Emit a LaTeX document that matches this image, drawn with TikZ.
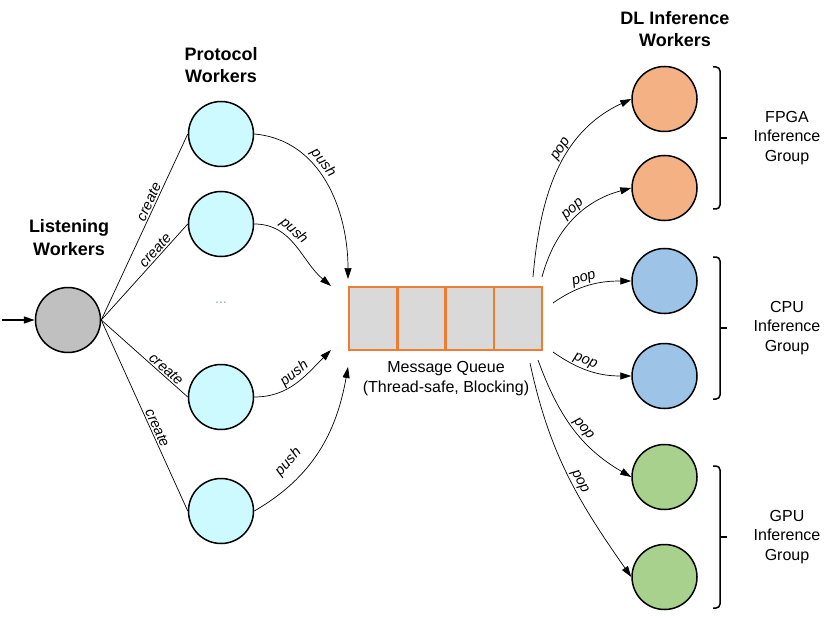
\documentclass[tikz,border=0pt]{standalone}
\usepackage{fontspec}
\setmainfont{Liberation Sans}
\usepackage{xcolor}
\usepackage{tikz}
\usetikzlibrary{arrows.meta}

\definecolor{qorange}{HTML}{ED7D31}
\definecolor{qgray}{HTML}{D9D9D9}
\definecolor{listengray}{HTML}{C0C0C0}
\definecolor{protocyan}{HTML}{CCFAFF}
\definecolor{fpgaorange}{HTML}{F4B183}
\definecolor{cpublue}{HTML}{9DC3E6}
\definecolor{gpugreen}{HTML}{A9D18E}
\definecolor{dotsblue}{HTML}{8EA9DB}

\begin{document}
\begin{tikzpicture}[x=1pt, y=1pt,
    worker/.style={circle, draw, line width=1.5pt, minimum size=65pt, inner sep=0pt},
    heading/.style={align=center, font=\fontsize{18}{22.5}\selectfont\bfseries},
    grouptext/.style={align=center, font=\fontsize{16}{19.5}\selectfont},
    lbl/.style={font=\fontsize{14.5}{16}\selectfont\itshape, sloped, inner sep=1.5pt},
    link/.style={line width=0.7pt},
    flow/.style={line width=0.7pt, -{Triangle[length=11pt,width=7pt]}},
    cell/.style={draw=qorange, fill=qgray, line width=2.5pt, minimum width=48.25pt, minimum height=63pt, inner sep=0pt},
    brk/.style={line width=1.5pt, rounded corners=4pt}]
    \useasboundingbox (0,0) rectangle (834,-620);

    % listening worker
    \node[worker, fill=listengray] (listen) at (68,-320) {};
    \node[heading] (listentitle) at (69,-237.5) {Listening\\Workers};
    \coordinate (in) at (2,-320);
    \draw[flow, line width=1.5pt] (in) -- (listen.west);

    % protocol workers
    \node[heading] (prototitle) at (221,-65) {Protocol\\Workers};
    \foreach \i/\y in {1/134, 2/224, 3/397, 4/511}
        \node[worker, fill=protocyan] (p\i) at (221,-\y) {};
    \node[text=dotsblue, font=\fontsize{14}{16}\selectfont] (dots) at (221,-303) {...};
    \foreach \i/\p in {1/0.62, 2/0.68, 3/0.7, 4/0.58}
        \draw[link] (listen.east) -- node[lbl, above, pos=\p] {create} (p\i.west);

    % message queue
    \foreach \i in {1,...,4}
        \node[cell] (q\i) at ({349+48.25*(\i-0.5)},-318.5) {};
    \node[grouptext] (qlabel) at (446,-378.5) {Message Queue\\(Thread-safe, Blocking)};

    \coordinate (push1) at (348,-279);
    \coordinate (push2) at (331,-286);
    \coordinate (push3) at (331,-350);
    \coordinate (push4) at (348,-367);
    \draw[flow] (p1.east) to[out=-5, in=90] node[lbl, above, pos=0.4] {push} (push1);
    \draw[flow] (p2.east) to[out=0, in=140] node[lbl, above, pos=0.38] {push} (push2);
    \draw[flow] (p3.east) to[out=0, in=-135] node[lbl, above, pos=0.55] {push} (push3);
    \draw[flow] (p4.east) to[out=30, in=-100] node[lbl, above=9pt, pos=0.33] {push} (push4);

    % DL inference workers
    \node[heading] (dltitle) at (675,-29) {DL Inference\\Workers};
    \foreach \i/\y/\c in {1/99/fpgaorange, 2/188/fpgaorange, 3/281/cpublue, 4/376/cpublue, 5/477/gpugreen, 6/577/gpugreen}
        \node[worker, fill=\c] (d\i) at (664.5,-\y) {};

    \coordinate (pop1) at (533,-277);
    \coordinate (pop2) at (542,-277);
    \coordinate (pop3) at (553,-303);
    \coordinate (pop4) at (553,-352);
    \coordinate (pop5) at (538,-360);
    \coordinate (pop6) at (530,-363);
    \draw[flow] (pop1) to[out=85, in=205] node[lbl, above, pos=0.6] {pop} (d1.west);
    \draw[flow] (pop2) to[out=75, in=195] node[lbl, above, pos=0.55] {pop} (d2.west);
    \draw[flow] (pop3) to[out=35, in=180] node[lbl, above, pos=0.45] {pop} (d3.west);
    \draw[flow] (pop4) to[out=-35, in=180] node[lbl, above, pos=0.4] {pop} (d4.west);
    \draw[flow] (pop5) to[out=-70, in=150] node[lbl, above, pos=0.55] {pop} (d5.west);
    \draw[flow] (pop6) to[out=-78, in=125] node[lbl, above, pos=0.55] {pop} (d6.west);

    % group brackets
    \foreach \t/\b/\g in {67/209/FPGA, 257/399/CPU, 466/608/GPU} {
        \draw[brk] (713,-\t) -- (720,-\t) -- (720,-\b) -- (713,-\b);
        \draw[brk] (720,{-(\t+\b)/2}) -- (727,{-(\t+\b)/2});
        \node[grouptext] (g\g) at (787,{-(\t+\b)/2}) {\g\\Inference\\Group};
    }
\end{tikzpicture}
\end{document}
